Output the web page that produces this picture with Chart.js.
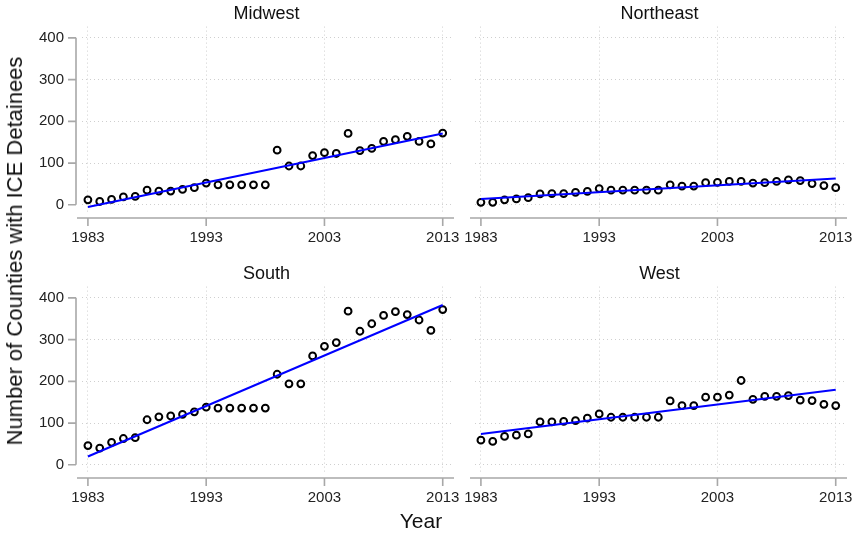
<!DOCTYPE html>
<html>
<head>
<meta charset="utf-8">
<title>ICE detainees by region</title>
<script src="https://cdn.jsdelivr.net/npm/chart.js@4.4.0/dist/chart.umd.min.js"></script>
<style>
  body { margin: 0; background: #fff; width: 858px; height: 538px; position: relative; overflow: hidden;
         font-family: "Liberation Sans", Arial, sans-serif; }
  canvas { position: absolute; }
  #ytitle { position: absolute; left: 15px; top: 251px; transform: translate(-50%, -50%) rotate(-90deg);
            white-space: nowrap; font-size: 22px; color: #111; }
  #xtitle { position: absolute; left: 421px; top: 521px; transform: translate(-50%, -50%);
            font-size: 21px; color: #111; }
</style>
</head>
<body>
<canvas id="c-mw" width="460" height="260" style="left:0;top:0"></canvas>
<canvas id="c-ne" width="398" height="260" style="left:460px;top:0"></canvas>
<canvas id="c-so" width="460" height="260" style="left:0;top:260px"></canvas>
<canvas id="c-we" width="398" height="260" style="left:460px;top:260px"></canvas>
<div id="ytitle">Number of Counties with ICE Detainees</div>
<div id="xtitle">Year</div>
<script>
// ---- data ----
var years = [1983, 1984, 1985, 1986, 1987, 1988, 1989, 1990, 1991, 1992, 1993, 1994, 1995, 1996, 1997,
             1998, 1999, 2000, 2001, 2002, 2003, 2004, 2005, 2006, 2007, 2008, 2009, 2010, 2011, 2012, 2013];
var yearTicks = [1983, 1993, 2003, 2013];
var countTicks = [0, 100, 200, 300, 400];

var midwest   = [12, 8, 13, 19, 20, 35, 33, 33, 37, 41, 52, 48, 48, 48, 48,
                 48, 131, 93, 93, 118, 125, 123, 171, 130, 135, 152, 156, 164, 152, 146, 172];
var northeast = [6, 6, 12, 14, 17, 26, 27, 27, 30, 32, 39, 35, 35, 35, 35,
                 35, 48, 45, 45, 53, 54, 56, 56, 52, 53, 56, 60, 58, 51, 46, 41];
var south     = [46, 40, 54, 63, 65, 108, 115, 117, 121, 127, 138, 136, 136, 136, 136,
                 136, 217, 194, 194, 261, 284, 293, 368, 320, 338, 358, 367, 360, 347, 322, 372];
var west      = [59, 56, 68, 71, 74, 103, 103, 104, 106, 112, 122, 114, 114, 114, 114,
                 114, 153, 142, 142, 162, 162, 167, 202, 157, 164, 164, 166, 155, 154, 145, 142];

// fitted line end points (1983, 2013)
var midwestFit   = [-5, 171];
var northeastFit = [14, 63];
var southFit     = [20, 383];
var westFit      = [74, 180];

var FONT = '"Liberation Sans", Arial, sans-serif';

// Stata style axes: lines offset from the plot region
var stataAxes = {
    id: 'stataAxes',
    afterDraw: function (chart, args, opts) {
        var ctx = chart.ctx, a = chart.chartArea;
        var xs = chart.scales.x, ys = chart.scales.y;
        ctx.save();
        ctx.strokeStyle = '#a8a8a8';
        ctx.lineWidth = 1.6;
        ctx.beginPath();
        var ay = a.bottom + 4;
        ctx.moveTo(a.left - 5, ay);
        ctx.lineTo(a.right + 3, ay);
        yearTicks.forEach(function (t) {
            var px = xs.getPixelForValue(t);
            ctx.moveTo(px, ay);
            ctx.lineTo(px, ay + 8);
        });
        if (opts.yAxis) {
            var ax = a.left - 6;
            ctx.moveTo(ax, ys.getPixelForValue(400));
            ctx.lineTo(ax, ys.getPixelForValue(0));
            countTicks.forEach(function (t) {
                var py = ys.getPixelForValue(t);
                ctx.moveTo(ax - 8, py);
                ctx.lineTo(ax, py);
            });
        }
        ctx.stroke();
        ctx.restore();
    }
};

function panel(id, title, values, fit, leftSide) {
    var pts = years.map(function (yr, i) { return { x: yr, y: values[i] }; });
    var grid = { color: '#cfcfcf', lineWidth: 1, drawTicks: false };
    new Chart(document.getElementById(id), {
        type: 'scatter',
        data: {
            datasets: [{
                data: [{ x: years[0], y: fit[0] }, { x: years[years.length - 1], y: fit[1] }],
                showLine: true,
                borderColor: '#0000ff',
                borderWidth: 2,
                pointRadius: 0,
                order: 0
            }, {
                data: pts,
                pointStyle: 'circle',
                pointRadius: 3.4,
                pointBorderWidth: 2,
                pointBorderColor: '#000',
                pointBackgroundColor: 'rgba(255,255,255,0)',
                order: 1
            }]
        },
        options: {
            responsive: false,
            animation: false,
            layout: { padding: { left: 0, right: leftSide ? 9 : 14, top: 0, bottom: 0 } },
            plugins: {
                legend: { display: false },
                tooltip: { enabled: false },
                title: {
                    display: true,
                    text: title,
                    fullSize: false,
                    color: '#111',
                    font: { family: FONT, size: 18, weight: 'normal' },
                    padding: { top: 3, bottom: 2 }
                },
                stataAxes: { yAxis: leftSide }
            },
            scales: {
                x: {
                    type: 'linear',
                    min: 1982.5,
                    max: 2013.7,
                    afterBuildTicks: function (s) { s.ticks = yearTicks.map(function (v) { return { value: v }; }); },
                    afterFit: function (s) { s.height = 46; s.paddingLeft = 0; s.paddingRight = 0; },
                    border: { display: false, dash: [1, 3] },
                    grid: grid,
                    ticks: { color: '#222', padding: 15, font: { family: FONT, size: 15 },
                             callback: function (v) { return String(v); } }
                },
                y: {
                    type: 'linear',
                    min: -22,
                    max: 427,
                    afterBuildTicks: function (s) { s.ticks = countTicks.map(function (v) { return { value: v }; }); },
                    afterFit: function (s) { s.width = leftSide ? 82 : 15; s.paddingTop = 0; s.paddingBottom = 0; },
                    border: { display: false, dash: [1, 3] },
                    grid: grid,
                    ticks: { display: leftSide, color: '#222', padding: 18, font: { family: FONT, size: 15 } }
                }
            }
        },
        plugins: [stataAxes]
    });
}

panel('c-mw', 'Midwest', midwest, midwestFit, true);
panel('c-ne', 'Northeast', northeast, northeastFit, false);
panel('c-so', 'South', south, southFit, true);
panel('c-we', 'West', west, westFit, false);
</script>
</body>
</html>
